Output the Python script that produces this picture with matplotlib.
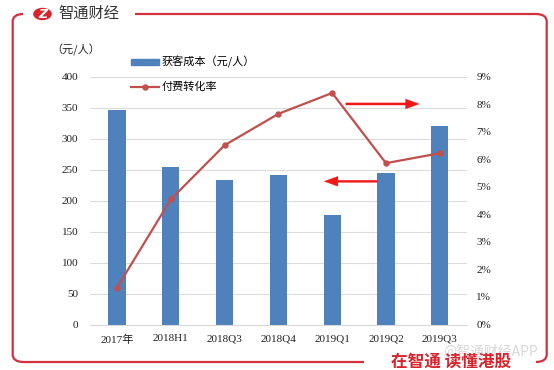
import matplotlib
matplotlib.use("Agg")
import matplotlib.pyplot as plt
from matplotlib.patches import FancyBboxPatch, Circle
from matplotlib.lines import Line2D
from matplotlib.patches import Patch

plt.rcParams['font.family'] = ['Liberation Serif', 'Noto Sans CJK SC', 'DejaVu Sans']

# 数据
categories = ["2017年", "2018H1", "2018Q3", "2018Q4", "2019Q1", "2019Q2", "2019Q3"]
cost_per_user = [347, 255, 234, 241, 176, 244, 320]          # 获客成本（元/人）
pay_rate = [1.33, 4.54, 6.51, 7.65, 8.41, 5.86, 6.22]        # 付费转化率 (%)

left_ticks = [0, 50, 100, 150, 200, 250, 300, 350, 400]
right_ticks = list(range(0, 10))

BAR_C = "#4F81BD"
LINE_C = "#C0504D"
FRAME_C = "#D2303C"
W, H = 554, 370


def fx(px):
    return px / W


def fy(py):
    return 1 - py / H


fig = plt.figure(figsize=(W / 100, H / 100), dpi=100)

# 主图区域
ax = fig.add_axes([fx(90), fy(324.5), fx(466.7) - fx(90), fy(76.7) - fy(324.5)])
x = list(range(len(categories)))
ax.bar(x, cost_per_user, width=0.32, color=BAR_C, zorder=2)
ax.set_xlim(-0.5, len(categories) - 0.5)
ax.set_ylim(0, 400)
ax.set_yticks(left_ticks)
ax.set_xticks(x)
ax.set_xticklabels(categories)
ax.tick_params(axis='both', length=0, labelsize=8, colors='#222222')
ax.tick_params(axis='y', pad=8.4)
ax.tick_params(axis='x', pad=7)
ax.grid(axis='y', color='#DCDCDC', linewidth=0.8, zorder=0)
for s in ['top', 'right', 'left']:
    ax.spines[s].set_visible(False)
ax.spines['bottom'].set_color('#D9D9D9')

ax2 = ax.twinx()
ax2.plot(x, pay_rate, color=LINE_C, linewidth=1.6, marker='o', markersize=3.6, zorder=3)
ax2.set_ylim(0, 9)
ax2.set_yticks(right_ticks)
ax2.set_yticklabels([f"{v}%" for v in right_ticks])
ax2.tick_params(axis='y', length=0, labelsize=8, colors='#222222', pad=7)
for s in ['top', 'right', 'left', 'bottom']:
    ax2.spines[s].set_visible(False)

# 红色箭头
arrow_style = "simple,head_length=0.9,head_width=0.65,tail_width=0.14"
ax2.annotate("", xy=(5.67, 8.01), xytext=(4.2, 8.01),
             arrowprops=dict(arrowstyle=arrow_style, color="#F01818", lw=0.2, mutation_scale=11))
ax2.annotate("", xy=(3.80, 5.2), xytext=(4.89, 5.2),
             arrowprops=dict(arrowstyle=arrow_style, color="#F01818", lw=0.2, mutation_scale=11))

# 图例
handles = [Patch(color=BAR_C), Line2D([], [], color=LINE_C, lw=1.6, marker='o', markersize=3.6)]
fig.legend(handles, ["获客成本（元/人）", "付费转化率"], loc='upper left',
           bbox_to_anchor=(fx(131), fy(56)), frameon=False,
           prop={'family': ['Noto Sans CJK SC'], 'size': 8},
           handlelength=2.5, handleheight=0.45, handletextpad=0.25,
           labelspacing=1.25, borderpad=0, borderaxespad=0)

fig.text(fx(76), fy(50), "（元/人）", fontsize=8, ha='center', va='center', color='#222222',
         family=['Noto Sans CJK SC'])

# 外框与装饰
frame = FancyBboxPatch((fx(12.7), fy(362)), fx(546.7) - fx(12.7), fy(14) - fy(362),
                       boxstyle="round,pad=0,rounding_size=0.02", transform=fig.transFigure,
                       fill=False, edgecolor=FRAME_C, linewidth=1.6, zorder=0)
fig.patches.append(frame)

fig.text(fx(89), fy(14), "智通财经", fontsize=11, ha='center', va='center', color='#333333',
         bbox=dict(facecolor='white', edgecolor='none', boxstyle='square,pad=0.15'))
fig.patches.append(FancyBboxPatch((fx(23), fy(22)), fx(135) - fx(23), fy(6) - fy(22),
                                  boxstyle="square,pad=0", transform=fig.transFigure,
                                  facecolor='white', edgecolor='none', zorder=1))
fig.patches.append(Circle((fx(42.5), fy(14)), 9.3 / W, transform=fig.transFigure,
                          facecolor='#D7252E', edgecolor='none', zorder=2))
fig.text(fx(42.5), fy(14), "Z", fontsize=9, fontweight='bold', style='italic',
         ha='center', va='center', color='white', zorder=3, family='DejaVu Sans')

fig.patches.append(FancyBboxPatch((fx(364), fy(368)), fx(536) - fx(364), fy(355) - fy(368),
                                  boxstyle="square,pad=0", transform=fig.transFigure,
                                  facecolor='white', edgecolor='none', zorder=1))
fig.text(fx(491), fy(352), "@智通财经APP", fontsize=10, ha='center', va='center',
         color='#D8D8D8', zorder=2, family=['Noto Sans CJK SC'])
fig.text(fx(451), fy(362), "在智通 读懂港股", fontsize=12, fontweight='bold', ha='center',
         va='center', color='#D7252E', zorder=3, family=['Noto Sans CJK SC'])

fig.savefig("out.png", dpi=100)
